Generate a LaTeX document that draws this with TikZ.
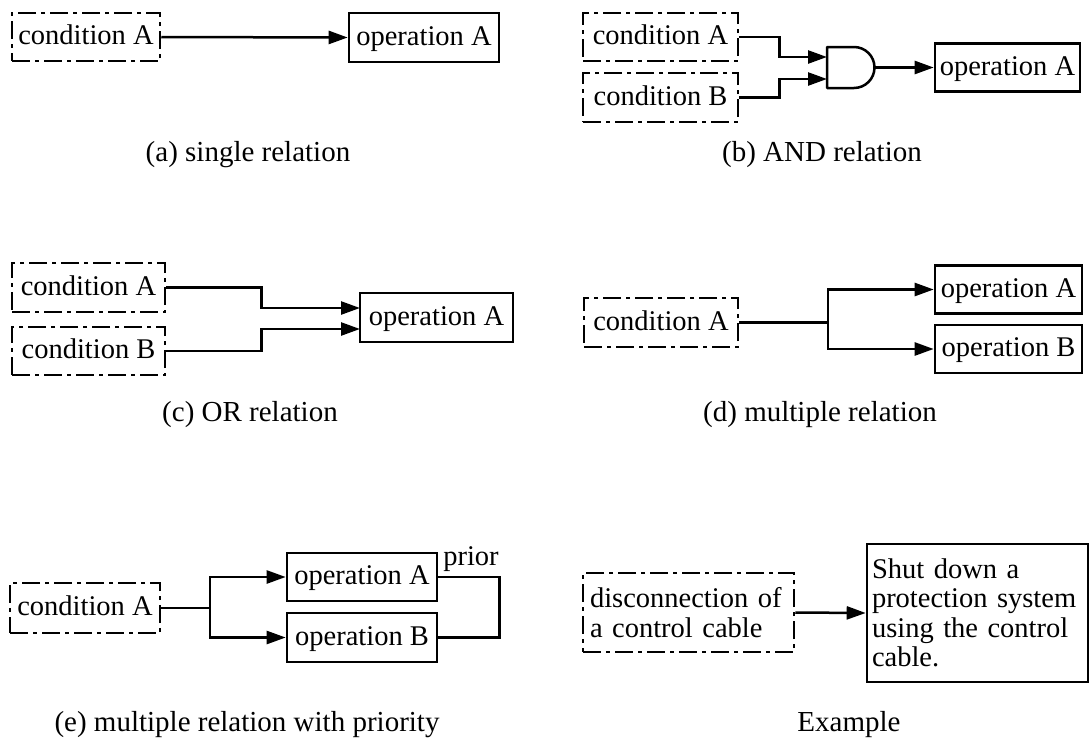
\documentclass[tikz,border=0pt]{standalone}
\usepackage{fontspec}
\setmainfont{Liberation Serif}
\usetikzlibrary{arrows.meta}
\begin{document}
\begin{tikzpicture}[x=1pt,y=-1pt,
  every node/.style={font=\fontsize{28.5}{29.5}\selectfont, inner sep=0pt},
  oneline/.style={text height=20pt, text depth=5pt},
  condbox/.style={draw, line width=2.5pt, dash pattern=on 18pt off 5pt on 4pt off 5pt},
  opbox/.style={draw, line width=2.6pt},
  conn/.style={line width=2.5pt},
  arr/.style={conn, -{Triangle[length=19pt,width=13pt]}},
  captext/.style={font=\fontsize{29}{31}\selectfont}
]
\useasboundingbox (0,0) rectangle (1090,737);

% (a)
\node[condbox, oneline, minimum width=148pt, minimum height=48pt] (ca1) at (86,37) {condition A};
\node[opbox, oneline, minimum width=150pt, minimum height=49pt] (oa1) at (424,37.5) {operation A};
\draw[arr] (ca1.east) -- (oa1.west);
\node[captext] (capa) at (248,155) {(a) single relation};

% (b)
\node[condbox, oneline, minimum width=155pt, minimum height=48pt] (cb1) at (660.5,37) {condition A};
\node[condbox, oneline, minimum width=155pt, minimum height=49pt] (cb2) at (660.5,97.5) {condition B};
\coordinate (gin1) at (827,57);
\coordinate (gin2) at (827,79);
\coordinate (gout) at (875,67.5);
\draw[conn, line join=round] (827,47) -- (854,47) arc[start angle=-90, end angle=90, radius=20.5] -- (827,88) -- cycle;
\draw[arr] (cb1.east) -- ++(40,0) |- (gin1);
\draw[arr] (cb2.east) -- ++(40,0) |- (gin2);
\node[opbox, oneline, minimum width=145pt, minimum height=48pt] (ob1) at (1007.5,67.5) {operation A};
\draw[arr] (gout) -- (ob1.west);
\node[captext] (capb) at (822,155) {(b) AND relation};

% (c)
\node[condbox, oneline, minimum width=153pt, minimum height=49pt] (cc1) at (88.5,287.5) {condition A};
\node[condbox, oneline, minimum width=153pt, minimum height=48pt] (cc2) at (88.5,351) {condition B};
\node[opbox, oneline, minimum width=153pt, minimum height=49pt] (oc) at (436.5,317.5) {operation A};
\coordinate (ocin1) at (360,308);
\coordinate (ocin2) at (360,329);
\draw[arr] (cc1.east) -- ++(95,0) |- (ocin1);
\draw[arr] (cc2.east) -- ++(95,0) |- (ocin2);
\node[captext] (capc) at (250,415) {(c) OR relation};

% (d)
\node[condbox, oneline, minimum width=154pt, minimum height=49pt] (cd) at (661,322.5) {condition A};
\node[opbox, oneline, minimum width=147pt, minimum height=48pt] (od1) at (1008.5,289.5) {operation A};
\node[opbox, oneline, minimum width=147pt, minimum height=48pt] (od2) at (1008.5,349) {operation B};
\coordinate (dj) at (828,322.5);
\draw[conn] (cd.east) -- (dj);
\draw[arr] (dj) |- (od1.west);
\draw[arr] (dj) |- (od2.west);
\node[captext] (capd) at (820,415) {(d) multiple relation};

% (e)
\node[condbox, oneline, minimum width=150pt, minimum height=50pt] (ce) at (85,608) {condition A};
\node[opbox, oneline, minimum width=150pt, minimum height=48pt] (oe1) at (362,577) {operation A};
\node[opbox, oneline, minimum width=150pt, minimum height=49pt] (oe2) at (362,637.5) {operation B};
\coordinate (ej) at (210,608);
\draw[conn] (ce.east) -- (ej);
\draw[arr] (ej) |- (oe1.west);
\draw[arr] (ej) |- (oe2.west);
\draw[conn] (oe1.east) -- ++(61,0) |- (oe2.east);
\node[anchor=base] (prior) at (471,565) {prior};
\node[captext] (cape) at (247,725) {(e) multiple relation with priority};

% Example
\node[condbox, minimum width=211pt, minimum height=79pt, align=left, text width=197pt] (dis) at (688.5,612.5) {disconnection of\\a control cable};
\node[opbox, minimum width=221pt, minimum height=138pt, align=left, text width=211pt] (shut) at (977.5,613) {Shut down a\\protection system\\using the control\\cable.\\[-3pt]};
\draw[arr] (dis.east) -- (shut.west);
\node[captext] (capx) at (849,725) {Example};
\end{tikzpicture}
\end{document}
